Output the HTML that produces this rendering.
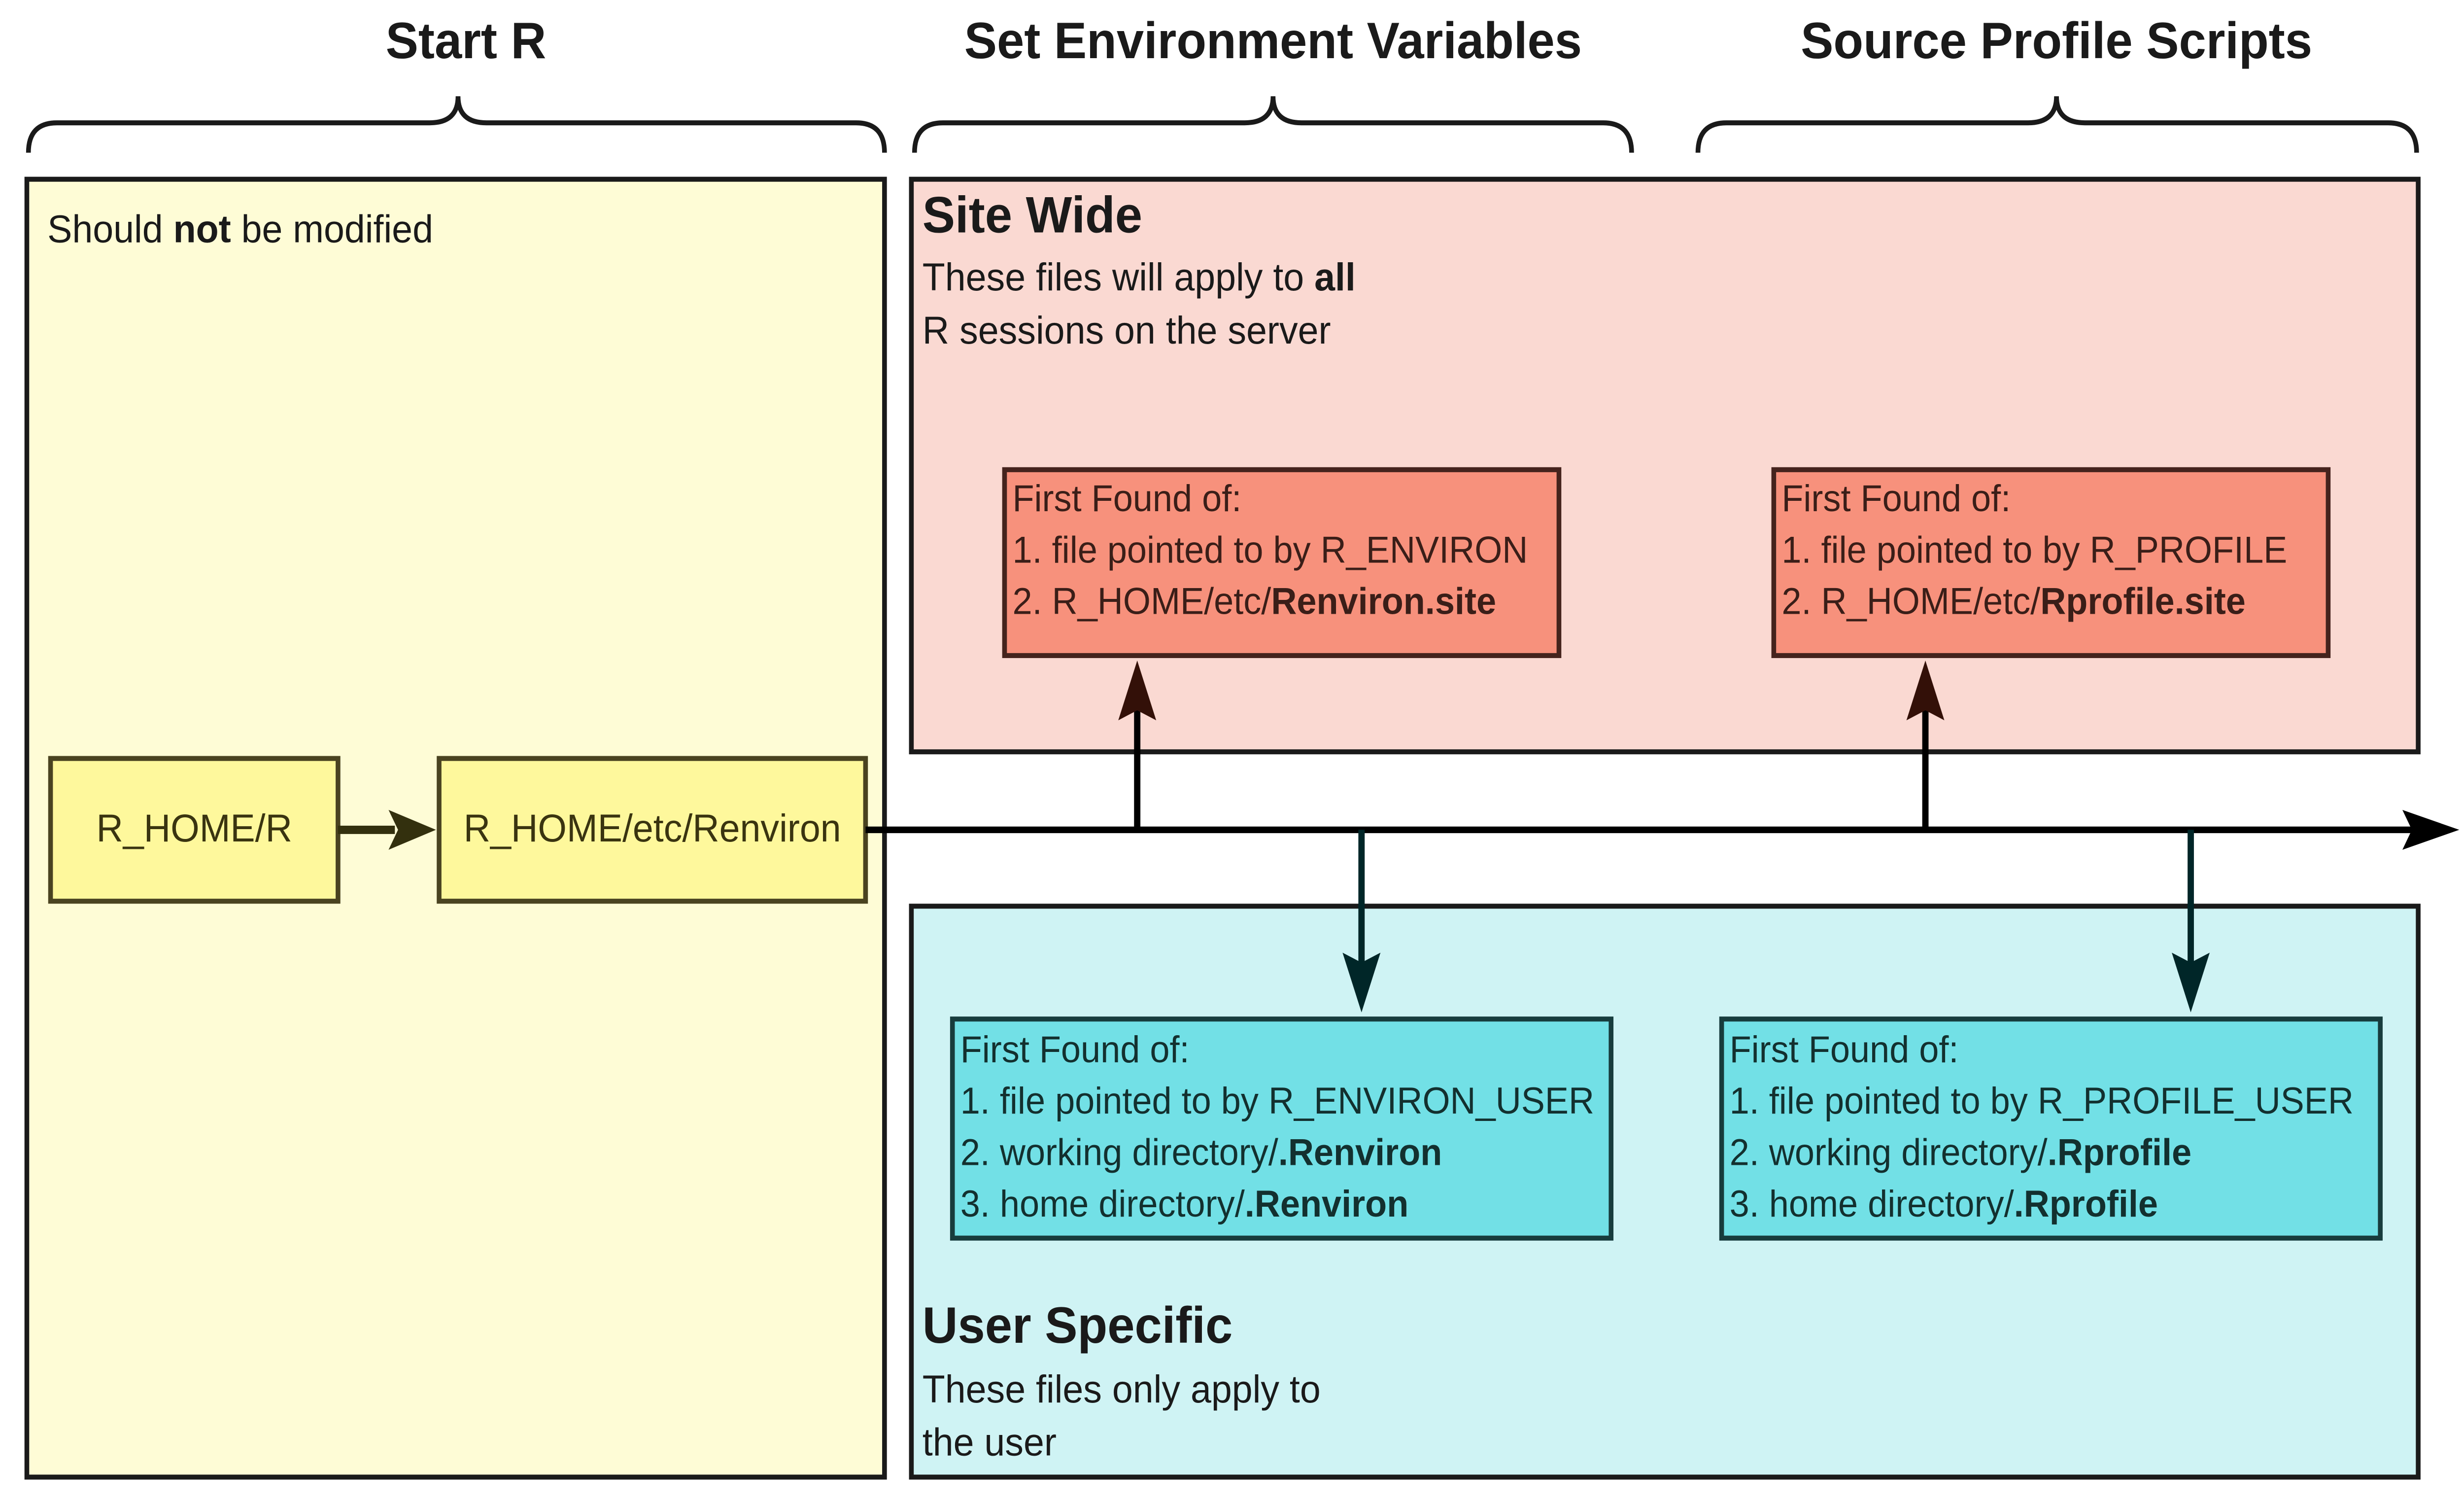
<!DOCTYPE html>
<html><head><meta charset="utf-8"><style>html,body{margin:0;padding:0;background:#fff;width:100%;height:100%;overflow:hidden}svg{display:block;width:100vw;height:100vh}text{font-family:"Liberation Sans","DejaVu Sans",sans-serif;fill:#1a1a1a}</style></head>
<body>
<svg viewBox="0 0 1560 905" preserveAspectRatio="none" xmlns="http://www.w3.org/2000/svg">
<!-- titles -->
<text x="295" y="35" font-size="31" font-weight="bold" text-anchor="middle">Start R</text>
<text x="806" y="35" font-size="31" font-weight="bold" text-anchor="middle">Set Environment Variables</text>
<text x="1302" y="35" font-size="31" font-weight="bold" text-anchor="middle">Source Profile Scripts</text>
<!-- braces -->
<g fill="none" stroke="#1a1a1a" stroke-width="3">
<path d="M18,92 Q18,74 36,74 L272,74 Q290,74 290,58 Q290,74 308,74 L542,74 Q560,74 560,92"/>
<path d="M579,92 Q579,74 597,74 L788,74 Q806,74 806,58 Q806,74 824,74 L1015,74 Q1033,74 1033,92"/>
<path d="M1075,92 Q1075,74 1093,74 L1284,74 Q1302,74 1302,58 Q1302,74 1320,74 L1512,74 Q1530,74 1530,92"/>
</g>
<!-- panels -->
<rect x="17" y="108" width="543" height="782" fill="#fefcd6" stroke="#1a1a1a" stroke-width="3"/>
<rect x="577" y="108" width="954" height="345" fill="#fad9d2" stroke="#1a1a1a" stroke-width="3"/>
<rect x="577" y="546" width="954" height="344" fill="#cff3f4" stroke="#1a1a1a" stroke-width="3"/>
<text x="30" y="146" font-size="23.5">Should <tspan font-weight="bold">not</tspan> be modified</text>
<text x="584" y="140" font-size="31" font-weight="bold">Site Wide</text>
<text x="584" y="175" font-size="23.5">These files will apply to <tspan font-weight="bold">all</tspan></text>
<text x="584" y="207" font-size="23.5">R sessions on the server</text>
<text x="584" y="809" font-size="31" font-weight="bold">User Specific</text>
<text x="584" y="845" font-size="23.5">These files only apply to</text>
<text x="584" y="877" font-size="23.5">the user</text>
<!-- yellow boxes -->
<rect x="32" y="457" width="182" height="86" fill="#fef89c" stroke="#4a4320" stroke-width="3"/>
<text x="123" y="507" font-size="23.5" text-anchor="middle" style="fill:#3a3410">R_HOME/R</text>
<rect x="278" y="457" width="270" height="86" fill="#fef89c" stroke="#4a4320" stroke-width="3"/>
<text x="413" y="507" font-size="23.5" text-anchor="middle" style="fill:#3a3410">R_HOME/etc/Renviron</text>
<line x1="214" y1="500" x2="250" y2="500" stroke="#33300e" stroke-width="5"/>
<polygon points="276,500 246,488 252,500 246,512" fill="#33300e"/>
<!-- main line -->
<line x1="548" y1="500" x2="1530" y2="500" stroke="#000" stroke-width="4"/>
<polygon points="1557,500 1521,488 1527,500 1521,512" fill="#000"/>
<!-- up arrows -->
<line x1="720" y1="500" x2="720" y2="425" stroke="#000" stroke-width="4"/>
<polygon points="720,398 708,434 720,428 732,434" fill="#331008"/>
<line x1="1219" y1="500" x2="1219" y2="425" stroke="#000" stroke-width="4"/>
<polygon points="1219,398 1207,434 1219,428 1231,434" fill="#331008"/>
<!-- down arrows -->
<line x1="862" y1="500" x2="862" y2="585" stroke="#002628" stroke-width="4"/>
<polygon points="862,610 850,574 862,580 874,574" fill="#002628"/>
<line x1="1387" y1="500" x2="1387" y2="585" stroke="#002628" stroke-width="4"/>
<polygon points="1387,610 1375,574 1387,580 1399,574" fill="#002628"/>
<g font-size="22.5">
<rect x="636" y="283" width="351" height="112" fill="#f7917c" stroke="#45231d" stroke-width="3"/>
<text x="641" y="308" style="fill:#3a1e18">First Found of:</text>
<text x="641" y="339" style="fill:#3a1e18">1. file pointed to by R_ENVIRON</text>
<text x="641" y="370" style="fill:#3a1e18">2. R_HOME/etc/<tspan font-weight="bold">Renviron.site</tspan></text>
<rect x="1123" y="283" width="351" height="112" fill="#f7917c" stroke="#45231d" stroke-width="3"/>
<text x="1128" y="308" style="fill:#3a1e18">First Found of:</text>
<text x="1128" y="339" style="fill:#3a1e18">1. file pointed to by R_PROFILE</text>
<text x="1128" y="370" style="fill:#3a1e18">2. R_HOME/etc/<tspan font-weight="bold">Rprofile.site</tspan></text>
<rect x="603" y="614" width="417" height="132" fill="#72e0e6" stroke="#173c3d" stroke-width="3"/>
<text x="608" y="640" style="fill:#13302f">First Found of:</text>
<text x="608" y="671" style="fill:#13302f">1. file pointed to by R_ENVIRON_USER</text>
<text x="608" y="702" style="fill:#13302f">2. working directory/<tspan font-weight="bold">.Renviron</tspan></text>
<text x="608" y="733" style="fill:#13302f">3. home directory/<tspan font-weight="bold">.Renviron</tspan></text>
<rect x="1090" y="614" width="417" height="132" fill="#72e0e6" stroke="#173c3d" stroke-width="3"/>
<text x="1095" y="640" style="fill:#13302f">First Found of:</text>
<text x="1095" y="671" style="fill:#13302f">1. file pointed to by R_PROFILE_USER</text>
<text x="1095" y="702" style="fill:#13302f">2. working directory/<tspan font-weight="bold">.Rprofile</tspan></text>
<text x="1095" y="733" style="fill:#13302f">3. home directory/<tspan font-weight="bold">.Rprofile</tspan></text>
</g>
</svg>
</body></html>
